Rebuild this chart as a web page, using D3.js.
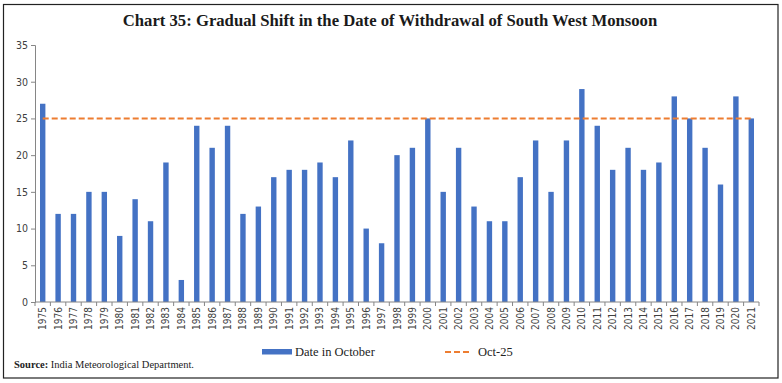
<!DOCTYPE html>
<html><head><meta charset="utf-8">
<script src="https://cdn.jsdelivr.net/npm/d3@7"></script>
<style>body{margin:0;background:#fff}svg{display:block}</style>
</head><body>
<svg id="c" width="782" height="383"></svg>
<script>
const years = ["1975","1976","1977","1978","1979","1980","1981","1982","1983","1984","1985","1986","1987","1988","1989","1990","1991","1992","1993","1994","1995","1996","1997","1998","1999","2000","2001","2002","2003","2004","2005","2006","2007","2008","2009","2010","2011","2012","2013","2014","2015","2016","2017","2018","2019","2020","2021"];
const dateInOctober = [27,12,12,15,15,9,14,11,19,3,24,21,24,12,13,17,18,18,19,17,22,10,8,20,21,25,15,21,13,11,11,17,22,15,22,29,24,18,21,18,19,28,25,21,16,28,25];
const referenceDay = 25;
const yTicks = [0,5,10,15,20,25,30,35];
const titleText = "Chart 35: Gradual Shift in the Date of Withdrawal of South West Monsoon";
const seriesNames = ["Date in October","Oct-25"];

const svg = d3.select("#c");
const blue = "#4472C4", orange = "#ED7D31", axisCol = "#868686", txt = "#404040";

// frame
svg.append("rect").attr("x",3.5).attr("y",4.5).attr("width",774.5).attr("height",373.5)
  .attr("fill","none").attr("stroke","#222").attr("stroke-width",1.2);

// title
const t = svg.append("text").attr("x",390).attr("y",26).attr("text-anchor","middle")
  .attr("font-family","Liberation Serif, serif").attr("font-weight","bold")
  .attr("font-size",16).attr("fill","#1a1a1a").text(titleText);
const tw = t.node().getComputedTextLength();
t.attr("font-size", 16*535/tw);

const x = d3.scaleBand().domain(years).range([35,759]).paddingInner(0.65).paddingOuter(0.325);
const y = d3.scaleLinear().domain([0,35]).range([302,45]);

// y axis
const ya = svg.append("g").attr("transform","translate(35,0)")
  .call(d3.axisLeft(y).tickValues(yTicks).tickSize(4).tickPadding(3));
ya.select(".domain").attr("stroke",axisCol);
ya.selectAll(".tick line").attr("stroke",axisCol);
ya.selectAll("text").attr("font-family","DejaVu Sans Condensed, sans-serif").attr("font-size",10.5).attr("fill",txt);

// bars
svg.append("g").selectAll("rect").data(years).join("rect")
  .attr("x",d=>x(d)).attr("width",x.bandwidth())
  .attr("y",(d,i)=>y(dateInOctober[i])).attr("height",(d,i)=>y(0)-y(dateInOctober[i]))
  .attr("fill",blue);

// x axis
const xa = svg.append("g").attr("transform","translate(0,302)");
xa.append("line").attr("x1",35).attr("x2",759).attr("stroke",axisCol);
const step = x.step();
xa.selectAll("line.tk").data(d3.range(years.length+1)).join("line").attr("class","tk")
  .attr("x1",i=>35+i*step).attr("x2",i=>35+i*step).attr("y1",0).attr("y2",4).attr("stroke",axisCol);
xa.selectAll("text").data(years).join("text")
  .attr("transform",d=>`translate(${x(d)+x.bandwidth()/2+3.5},5) rotate(-90)`)
  .attr("text-anchor","end").attr("font-family","DejaVu Sans Condensed, sans-serif")
  .attr("font-size",10).attr("fill",txt).text(d=>d);

// reference line
const line = d3.line().x(d=>x(d)+x.bandwidth()/2).y(()=>y(referenceDay));
svg.append("path").datum(years).attr("d",line).attr("fill","none")
  .attr("stroke",orange).attr("stroke-width",2).attr("stroke-dasharray","6,3");

// legend
const lg = svg.append("g");
lg.append("rect").attr("x",262).attr("y",349).attr("width",30).attr("height",5.5).attr("fill",blue);
lg.append("text").attr("x",295).attr("y",356).attr("font-family","Liberation Serif, serif")
  .attr("font-size",12.5).attr("fill","#222").text(seriesNames[0]);
lg.append("line").attr("x1",445).attr("x2",472).attr("y1",352).attr("y2",352)
  .attr("stroke",orange).attr("stroke-width",2).attr("stroke-dasharray","6,3");
lg.append("text").attr("x",478).attr("y",356).attr("font-family","Liberation Serif, serif")
  .attr("font-size",12.5).attr("fill","#222").text(seriesNames[1]);

// source
const s = svg.append("text").attr("x",14).attr("y",368).attr("font-family","Liberation Serif, serif")
  .attr("font-size",10.5).attr("fill","#222");
s.append("tspan").attr("font-weight","bold").text("Source:");
s.append("tspan").text(" India Meteorological Department.");
</script>
</body></html>
